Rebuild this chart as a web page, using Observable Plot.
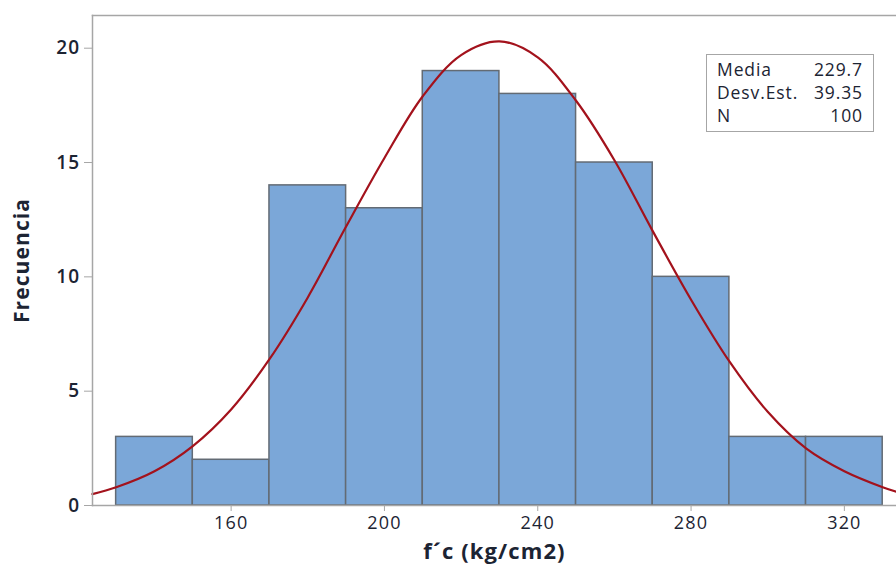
<!DOCTYPE html>
<html>
<head>
<meta charset="utf-8">
<script src="https://cdn.jsdelivr.net/npm/d3@7"></script>
<script src="https://cdn.jsdelivr.net/npm/@observablehq/plot@0.6"></script>
<style>
  html, body { margin: 0; padding: 0; background: #fff; }
  #wrap { position: relative; width: 896px; height: 566px; font-family: "Open Sans", "Noto Sans", sans-serif; }
  #stats { position: absolute; left: 706px; top: 54px; width: 166px; height: 76px;
           border: 1.5px solid #a6a6a6; background: #fff; font-size: 17.5px; color: #1c2433; letter-spacing: 0.9px; }
  #stats .row { position: absolute; left: 10px; right: 11px; height: 23px; line-height: 23px; }
  #stats .row span.v { position: absolute; right: -1px; }
  g[aria-label="y-axis tick label"] text { letter-spacing: 1.3px; }
  g[aria-label="x-axis tick label"] text { letter-spacing: 1.2px; }
  g.axis-title text { letter-spacing: 1.1px; }
</style>
</head>
<body>
<div id="wrap"></div>
<script>
// Histogram bins (f'c, kg/cm2) and frequencies
const binStart = [130, 150, 170, 190, 210, 230, 250, 270, 290, 310];
const binEnd   = [150, 170, 190, 210, 230, 250, 270, 290, 310, 330];
const freq     = [3, 2, 14, 13, 19, 18, 15, 10, 3, 3];

// Fitted normal curve
const curveX = [123.8, 130, 140, 150, 160, 170, 180, 190, 200, 210, 220, 230, 240, 250, 260, 270, 280, 290, 300, 310, 320, 330, 333.6];
const curveY = [0.5, 0.8, 1.5, 2.6, 4.2, 6.4, 9.1, 12.2, 15.2, 17.9, 19.7, 20.3, 19.6, 17.7, 15.1, 12.0, 9.0, 6.3, 4.1, 2.5, 1.5, 0.8, 0.6];

const xTicks = [160, 200, 240, 280, 320];
const yTicks = [0, 5, 10, 15, 20];

const statLabels = ["Media", "Desv.Est.", "N"];
const statValues = ["229.7", "39.35", "100"];

const xLabel = "f\u00b4c (kg/cm2)";
const yLabel = "Frecuencia";

const bins = binStart.map((s, i) => ({x1: s, x2: binEnd[i], y: freq[i]}));
const curve = curveX.map((x, i) => ({x, y: curveY[i]}));

const plot = Plot.plot({
  width: 896,
  height: 566,
  marginLeft: 92,
  marginTop: 15,
  marginBottom: 61,
  marginRight: 0,
  style: {fontFamily: "'Open Sans', 'Noto Sans', sans-serif", background: "#fff"},
  x: {domain: [123.83, 333.6], ticks: xTicks, label: null},
  y: {domain: [0, 21.43], ticks: yTicks, label: null},
  marks: [
    Plot.rectY(bins, {x1: "x1", x2: "x2", y: "y", fill: "#7ba7d8", stroke: "#636b74", strokeWidth: 1.5}),
    Plot.line(curve, {x: "x", y: "y", curve: "catmull-rom", stroke: "#a3121c", strokeWidth: 2.2}),
    Plot.frame({anchor: "left", stroke: "#a6a6a6", strokeWidth: 1.5}),
    Plot.frame({anchor: "top", stroke: "#a6a6a6", strokeWidth: 1.5}),
    Plot.frame({anchor: "bottom", stroke: "#a6a6a6", strokeWidth: 1.5}),
    Plot.axisY({ticks: yTicks, tickSize: 8, tickPadding: 4, stroke: "#a6a6a6", fontSize: 19, fontWeight: 600, fill: "#1c2433", label: null}),
    Plot.axisX({ticks: xTicks, tickSize: 6, tickPadding: 5, stroke: "#a6a6a6", fontSize: 18, fill: "#1c2433", label: null}),
    Plot.text([xLabel], {frameAnchor: "bottom", lineAnchor: "middle", textAnchor: "middle", dy: 46, fontSize: 22, fontWeight: 700, fill: "#1c2433", className: "axis-title"}),
    Plot.text([yLabel], {frameAnchor: "left", lineAnchor: "middle", textAnchor: "middle", dx: -70, rotate: -90, fontSize: 21, fontWeight: 700, fill: "#1c2433", className: "axis-title"})
  ]
});

const wrap = document.getElementById("wrap");
wrap.appendChild(plot);

const box = document.createElement("div");
box.id = "stats";
statLabels.forEach((lab, i) => {
  const row = document.createElement("div");
  row.className = "row";
  row.style.top = (3 + i * 23) + "px";
  const a = document.createElement("span");
  a.textContent = lab;
  const b = document.createElement("span");
  b.className = "v";
  b.textContent = statValues[i];
  row.appendChild(a);
  row.appendChild(b);
  box.appendChild(row);
});
wrap.appendChild(box);
</script>
</body>
</html>
